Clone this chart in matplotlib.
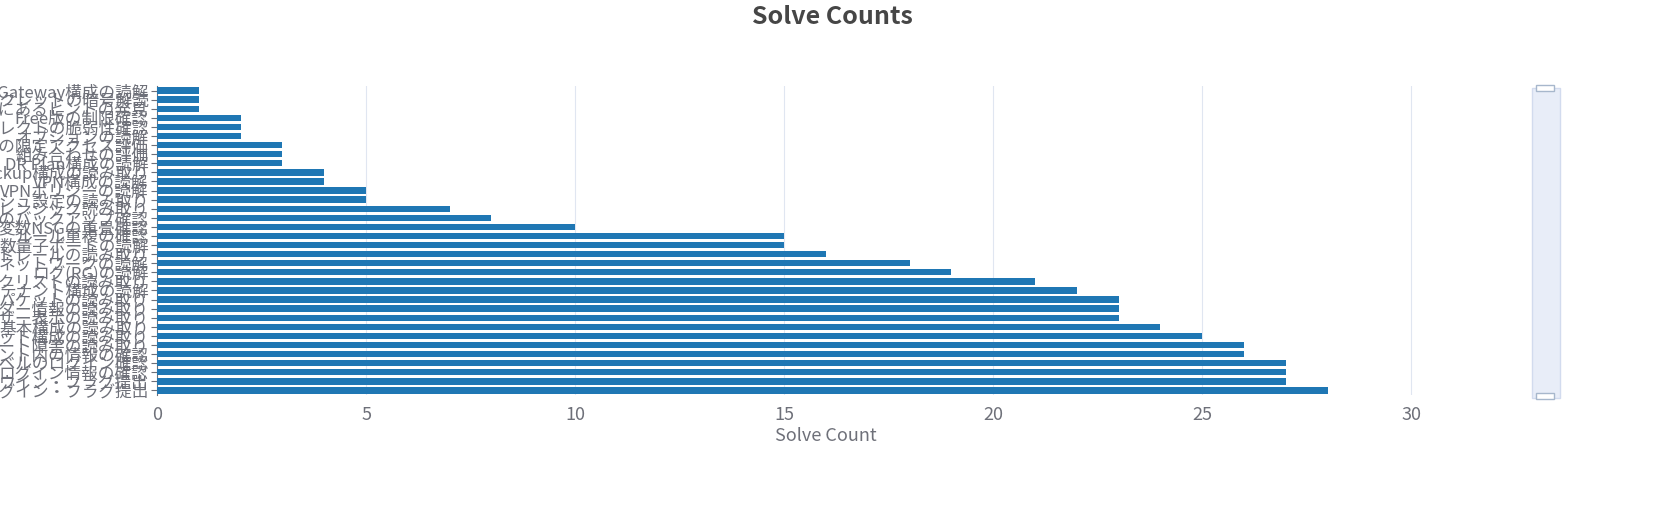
import matplotlib
matplotlib.use("Agg")
import matplotlib.pyplot as plt
from matplotlib.patches import Rectangle

plt.rcParams['font.family'] = ['Noto Sans CJK JP', 'DejaVu Sans']

categories = [
    "API Gateway構成の読解", "シークレットの暗号解読", "ノートにあるヒントの発見",
    "Free版の制限確認", "リダイレクトの脆弱性確認", "オプションの読解",
    "経路の限定アクセス評価", "組み合わせの評価", "DR Plan構成の読解",
    "Backup構成の読み取り", "VPN構成の読解", "VPNポリシーの読解",
    "キャッシュ設定の読み取り", "フォレンジック読み取り", "ログのバックアップ確認",
    "変数NSGの重畳確認", "ルール重複の確認", "数量子ポートの読解",
    "ガードレールの読み取り", "ネットワークの読解", "ログ(RG)の読解",
    "ブラックリストの読み取り", "テナント構成の読解", "パケットの読み取り",
    "ヘッダー情報の読み取り", "ユーザー表示の読み取り", "基本構成の読み取り",
    "アセット構成の読み取り", "チャート障害の読み取り", "イベント内の情報の確認",
    "レベルのログイン確認", "ログイン情報の確認", "ウイン・フラグ提出",
    "ログイン・フラグ提出",
]
values = [1, 1, 1, 2, 2, 2, 3, 3, 3, 4, 4, 5, 5, 7, 8, 10, 15, 15, 16, 18,
          19, 21, 22, 23, 23, 23, 24, 25, 26, 26, 27, 27, 27, 28]

fig = plt.figure(figsize=(16.65, 5.25), dpi=100)
ax = fig.add_axes([157/1665, 1-395/525, (1495-157)/1665, (395-86)/525])
y = list(range(len(categories)))
ax.barh(y, values, height=0.7, color='#1f77b4', zorder=3)
ax.set_ylim(len(categories)-0.5, -0.5)
ax.set_xlim(0, 32)
ax.set_xticks([0, 5, 10, 15, 20, 25, 30])
ax.set_yticks(y)
ax.set_yticklabels(categories, fontsize=12, color='#6e7079')
ax.tick_params(axis='x', labelsize=13, labelcolor='#6e7079', length=0, pad=8)
ax.tick_params(axis='y', length=4, color='#6e7079', pad=2)
ax.grid(axis='x', color='#e0e6f1', zorder=0)
for s in ['top', 'right', 'bottom']:
    ax.spines[s].set_visible(False)
ax.spines['left'].set_color('#6e7079')
ax.set_xlabel('Solve Count', fontsize=13, color='#6e7079', labelpad=2)
fig.text(0.5, 1-17/525, 'Solve Counts', ha='center', va='center',
         fontsize=18, fontweight='bold', color='#464646')

# data zoom slider
fig.patches.append(Rectangle((1532/1665, 1-398/525), 28/1665, 310/525,
                             transform=fig.transFigure, facecolor='#e8edf8',
                             edgecolor='#d2dbee', linewidth=1))
for yy in (88, 396):
    fig.patches.append(Rectangle((1536/1665, 1-(yy+3)/525), 18/1665, 6/525,
                                 transform=fig.transFigure, facecolor='white',
                                 edgecolor='#a7b7cc', linewidth=1))
fig.savefig('out.png', dpi=100)
